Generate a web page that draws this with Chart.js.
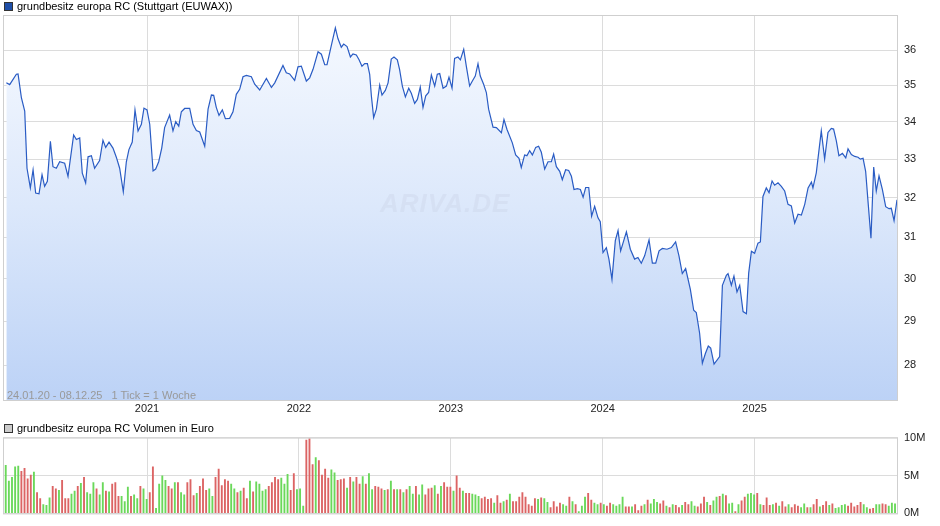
<!DOCTYPE html>
<html><head><meta charset="utf-8">
<script src="https://cdn.jsdelivr.net/npm/chart.js@4.4.1/dist/chart.umd.min.js"></script>
<style>
body{margin:0;background:#fff;width:940px;height:526px;position:relative;overflow:hidden;font-family:"Liberation Sans",Arial,sans-serif;}
.leg{position:absolute;left:4px;font-size:11px;color:#000;display:flex;align-items:center;z-index:2;}
.leg i{display:inline-block;width:7px;height:7px;border:1px solid #333;margin-right:4px;}
#w1{position:absolute;left:0;top:0;width:940px;height:418px;}
#w2{position:absolute;left:0;top:425px;width:940px;height:101px;}
#info{position:absolute;left:7px;top:389px;font-size:11px;color:#999;}
#wm{position:absolute;left:380px;top:188px;font-size:26px;font-style:italic;font-weight:bold;color:rgba(200,210,230,0.35);letter-spacing:1px;}
</style></head><body>
<div class="leg" style="top:0px"><i style="background:#1f4fa8"></i>grundbesitz europa RC (Stuttgart (EUWAX))</div>
<div class="leg" style="top:422px"><i style="background:#ccc"></i>grundbesitz europa RC Volumen in Euro</div>
<div id="w1"><canvas id="c1"></canvas></div>
<div id="w2"><canvas id="c2"></canvas></div>
<div id="wm">ARIVA.DE</div>
<div id="info">24.01.20 - 08.12.25&nbsp;&nbsp;&nbsp;1 Tick = 1 Woche</div>
<script>
const priceDates=[2020.074,2020.096,2020.140,2020.151,2020.173,2020.195,2020.210,2020.232,2020.250,2020.267,2020.289,2020.309,2020.326,2020.344,2020.364,2020.381,2020.403,2020.425,2020.458,2020.480,2020.517,2020.535,2020.557,2020.574,2020.596,2020.612,2020.634,2020.655,2020.688,2020.710,2020.728,2020.750,2020.776,2020.798,2020.820,2020.844,2020.864,2020.881,2020.903,2020.921,2020.941,2020.963,2020.980,2021.000,2021.018,2021.040,2021.057,2021.077,2021.097,2021.116,2021.149,2021.171,2021.189,2021.209,2021.226,2021.248,2021.281,2021.303,2021.325,2021.347,2021.380,2021.402,2021.424,2021.439,2021.456,2021.474,2021.496,2021.516,2021.544,2021.566,2021.588,2021.610,2021.632,2021.654,2021.687,2021.709,2021.742,2021.786,2021.819,2021.841,2021.895,2021.917,2021.939,2021.972,2021.994,2022.016,2022.049,2022.071,2022.093,2022.126,2022.148,2022.170,2022.185,2022.214,2022.240,2022.257,2022.279,2022.295,2022.317,2022.339,2022.356,2022.378,2022.396,2022.415,2022.433,2022.451,2022.466,2022.477,2022.492,2022.510,2022.532,2022.547,2022.569,2022.587,2022.608,2022.626,2022.648,2022.663,2022.681,2022.701,2022.723,2022.740,2022.762,2022.780,2022.799,2022.817,2022.835,2022.854,2022.872,2022.894,2022.911,2022.927,2022.949,2022.971,2022.988,2023.008,2023.025,2023.047,2023.063,2023.085,2023.102,2023.124,2023.142,2023.161,2023.179,2023.194,2023.216,2023.234,2023.249,2023.278,2023.300,2023.333,2023.350,2023.370,2023.405,2023.427,2023.449,2023.464,2023.486,2023.501,2023.519,2023.537,2023.559,2023.578,2023.596,2023.618,2023.640,2023.662,2023.677,2023.695,2023.717,2023.734,2023.756,2023.776,2023.794,2023.811,2023.833,2023.853,2023.871,2023.888,2023.908,2023.927,2023.947,2023.969,2023.984,2024.002,2024.024,2024.041,2024.061,2024.083,2024.101,2024.118,2024.156,2024.182,2024.210,2024.232,2024.254,2024.276,2024.305,2024.327,2024.349,2024.371,2024.393,2024.423,2024.452,2024.480,2024.502,2024.524,2024.546,2024.577,2024.599,2024.616,2024.638,2024.656,2024.676,2024.695,2024.711,2024.733,2024.770,2024.788,2024.814,2024.825,2024.847,2024.864,2024.884,2024.902,2024.924,2024.946,2024.961,2024.979,2025.000,2025.022,2025.038,2025.055,2025.077,2025.095,2025.115,2025.132,2025.154,2025.176,2025.198,2025.220,2025.242,2025.264,2025.286,2025.308,2025.330,2025.352,2025.374,2025.384,2025.406,2025.439,2025.461,2025.483,2025.505,2025.520,2025.538,2025.555,2025.578,2025.600,2025.615,2025.637,2025.659,2025.681,2025.696,2025.714,2025.731,2025.749,2025.766,2025.784,2025.801,2025.819,2025.841,2025.863,2025.885,2025.900,2025.918,2025.937,2025.959];
const priceValues=[35.07,35.02,35.31,35.32,34.66,34.29,32.76,32.25,32.72,32.12,32.10,32.59,32.29,32.42,33.47,32.80,32.76,32.93,32.89,32.55,33.64,33.52,33.56,32.63,32.38,33.06,33.09,32.76,32.96,33.50,33.31,33.45,33.29,33.05,32.76,32.15,32.93,33.25,33.45,34.32,33.75,33.93,34.37,34.32,33.93,32.69,32.74,32.93,33.29,33.84,34.18,33.75,34.00,33.88,34.27,34.36,34.36,33.93,33.76,33.72,33.34,34.34,34.73,34.72,34.39,34.17,34.32,34.08,34.09,34.27,34.75,34.89,35.24,35.28,35.24,35.03,34.87,35.19,34.94,35.07,35.56,35.35,35.32,35.14,35.52,35.54,35.12,35.21,35.45,35.95,35.88,35.58,35.58,36.14,36.64,36.33,36.08,36.17,36.10,35.80,35.89,35.86,35.72,35.54,35.61,35.61,35.31,34.71,34.11,34.34,35.01,34.73,34.86,35.07,35.74,35.80,35.72,35.44,34.98,34.68,34.92,34.78,34.50,34.61,34.95,34.39,34.71,34.80,35.29,34.98,35.31,35.33,34.92,34.98,35.23,34.92,35.76,35.80,35.72,36.02,35.54,34.98,35.12,35.26,35.61,35.26,35.03,34.80,34.34,33.85,33.84,33.70,34.06,33.79,33.43,33.11,33.02,32.78,33.11,33.09,33.22,33.11,33.31,33.34,33.18,32.74,32.93,32.93,33.13,32.80,32.68,32.46,32.72,32.70,32.55,32.21,32.23,32.21,32.01,32.26,32.26,31.53,31.78,31.49,31.39,30.63,30.75,30.47,29.98,30.92,31.17,30.67,31.14,30.71,30.47,30.51,30.37,30.55,30.94,30.37,30.37,30.67,30.73,30.71,30.75,30.89,30.55,30.12,30.24,29.74,29.25,29.20,28.72,28.04,28.26,28.43,28.38,28.02,28.19,29.84,30.08,30.12,29.84,30.06,29.68,29.84,29.22,29.17,30.13,30.66,30.61,30.86,30.89,32.03,32.25,32.13,32.43,32.32,32.38,32.29,32.17,31.83,31.79,31.36,31.58,31.56,31.83,32.25,32.40,32.25,32.64,33.75,33.00,33.71,33.82,33.80,33.48,33.09,33.15,33.03,33.27,33.12,33.07,33.05,33.00,33.02,32.68,31.79,30.98,32.79,32.17,32.56,32.21,31.77,31.72,31.73,31.42,31.93,31.93];
const yTicks=[28,29,30,31,32,33,34,35,36];
const yearTicks=[2021,2022,2023,2024,2025];
const volumeM=[6.4,4.3,4.8,6.2,6.3,5.6,6.0,4.6,5.1,5.5,2.8,2.0,1.2,1.1,2.1,3.6,3.3,3.1,4.4,2.0,2.0,2.6,3.0,3.6,4.0,4.8,2.8,2.6,4.1,3.3,2.5,4.1,3.0,2.9,3.9,4.1,2.3,2.3,1.6,3.5,2.3,2.5,2.0,3.6,3.3,1.9,2.8,6.2,0.7,3.9,5.0,4.4,3.6,3.3,4.1,4.1,2.8,2.5,4.1,4.5,2.4,2.7,3.6,4.6,3.1,3.3,2.3,4.8,5.9,3.7,4.5,4.3,3.9,3.3,2.8,3.0,3.4,2.0,4.3,2.9,4.2,3.9,3.0,3.2,3.6,4.1,4.8,4.5,4.7,3.9,5.2,3.1,5.3,3.2,3.3,1.0,9.7,9.9,6.5,7.4,7.0,5.1,5.9,4.7,5.8,5.4,4.4,4.5,4.6,3.4,4.8,4.2,4.8,3.9,4.9,3.9,5.3,3.2,3.6,3.5,3.3,3.1,3.2,4.3,3.2,3.2,3.2,2.8,3.2,3.6,2.6,3.6,2.5,3.8,2.5,3.3,3.4,3.7,2.6,3.6,4.1,3.5,3.5,3.0,5.0,3.4,3.0,2.7,2.7,2.6,2.5,2.3,2.0,2.2,1.9,2.0,1.4,2.4,1.4,1.6,1.8,2.6,1.6,1.6,2.2,2.8,2.2,1.2,1.0,2.0,1.9,2.1,2.0,1.5,0.8,1.6,0.9,1.4,1.2,1.0,2.2,1.6,1.2,0.3,1.0,2.2,2.7,1.8,1.4,1.2,1.4,1.2,1.0,1.4,1.2,1.0,1.2,2.2,0.9,0.9,0.9,1.2,0.4,1.0,1.2,1.8,1.3,1.9,1.5,1.3,1.7,1.0,0.8,1.2,1.1,0.8,1.1,1.5,1.2,1.6,1.0,0.9,1.3,2.2,1.5,1.1,1.7,2.2,2.3,2.6,2.4,1.3,1.4,0.3,1.2,1.7,2.2,2.6,2.7,2.5,2.7,1.2,1.1,2.1,1.1,1.2,1.4,1.0,1.6,0.9,1.2,0.8,1.2,1.0,0.8,1.3,0.8,0.8,1.2,1.9,0.9,1.1,1.6,1.1,1.3,0.7,0.8,1.1,1.2,1.0,1.4,0.9,1.1,1.5,1.2,0.8,0.6,0.7,1.2,1.2,1.3,1.2,1.0,1.4,1.3,0.8];
const volumeDir="gggggrrrrgrrgggrrgrrrggrgrgggrggrgrrrgggrggrggrrggggrrgrggrrrgrrrggrrrrrggrgrrgrggggrrrrgggrrgggrrrgrrrrggrrrgrgrrgrggrrrgrgrgrgrggrggrrrgrgrrrgrrgrrgggrrrrgrrgrgrrrrrrrrgrggrrrrggrgrgggrrggrgrrggggrrgrrrgrgggrrgrgrrgrrggrrrgrggrgrggrgrrgggrgrrrgrgrrgrrrggrgrrgrrgrggggrrrrrggrrggrrgggrrggrgrrrrgrgrrgrgggggrgrrgr";
const X0=2020.052, X1=2025.944, V0=2020.07, V1=2025.945;
const GRID='#dcdcdc', FONT={family:'"Liberation Sans",Arial,sans-serif',size:11};
Chart.defaults.font=FONT; Chart.defaults.color='#222';
const frame={id:'frame',afterDraw(c){const a=c.chartArea,x=c.ctx;x.save();x.strokeStyle='#cfcfcf';x.lineWidth=1;x.strokeRect(a.left+0.5,a.top+0.5,a.right-a.left-1,a.bottom-a.top);x.restore();}};
new Chart(document.getElementById('c1'),{
 type:'line',
 data:{datasets:[{data:priceDates.map((d,i)=>({x:d,y:priceValues[i]})),borderColor:'#2a5cc4',borderWidth:1.2,pointRadius:0,tension:0,fill:'start',
  backgroundColor:(ctx)=>{const a=ctx.chart.chartArea;if(!a)return'#dde8fb';const g=ctx.chart.ctx.createLinearGradient(0,a.top,0,a.bottom);g.addColorStop(0,'#f7faff');g.addColorStop(0.5,'#dce8fb');g.addColorStop(1,'#bcd2f6');return g;}}]},
 options:{responsive:true,maintainAspectRatio:false,animation:false,layout:{padding:{left:3,top:15,right:0,bottom:0}},
  plugins:{legend:{display:false},tooltip:{enabled:false}},
  scales:{
   x:{type:'linear',min:X0,max:X1,afterBuildTicks:s=>{s.ticks=yearTicks.map(v=>({value:v}));},afterFit:s=>{s.height=18;},
      ticks:{padding:2,callback:v=>String(v)},grid:{color:GRID,drawTicks:false},border:{display:false}},
   y:{type:'logarithmic',position:'right',min:27.23,max:37.02,afterBuildTicks:s=>{s.ticks=yTicks.map(v=>({value:v}));},afterFit:s=>{s.width=42;},
      ticks:{padding:6,callback:v=>String(v)},grid:{color:GRID,drawTicks:false},border:{display:false}}
  }},plugins:[frame]});
new Chart(document.getElementById('c2'),{
 type:'bar',
 data:{datasets:[{data:volumeM.map((v,i)=>({x:V0+i*(V1-V0)/(volumeM.length-1),y:v})),
   backgroundColor:volumeM.map((v,i)=>volumeDir[i]==='r'?'#dc6464':'#6ad85a'),barPercentage:0.6,categoryPercentage:1}]},
 options:{responsive:true,maintainAspectRatio:false,animation:false,layout:{padding:{left:3,top:0,right:0,bottom:1}},
  plugins:{legend:{display:false},tooltip:{enabled:false}},
  scales:{
   x:{type:'linear',min:X0,max:X1,offset:false,afterBuildTicks:s=>{s.ticks=yearTicks.map(v=>({value:v}));},afterFit:s=>{s.height=0;},
      ticks:{display:false},grid:{color:GRID,drawTicks:false,offset:false},border:{display:false}},
   y:{position:'right',min:0,max:10,afterBuildTicks:s=>{s.ticks=[0,5,10].map(v=>({value:v}));},afterFit:s=>{s.width=42;},
      ticks:{padding:6,callback:v=>v+'M'},grid:{color:GRID,drawTicks:false},border:{display:false}}
  }},plugins:[frame]});
</script></body></html>
